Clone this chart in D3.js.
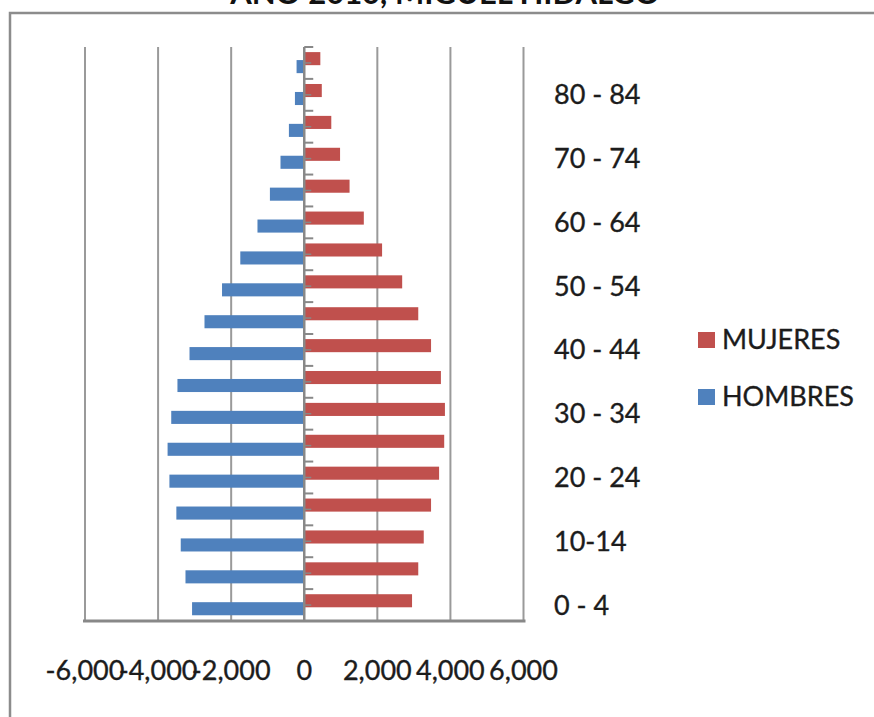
<!DOCTYPE html>
<html>
<head>
<meta charset="utf-8">
<script src="https://cdn.jsdelivr.net/npm/d3@7/dist/d3.min.js"></script>
<style>
  html, body { margin: 0; padding: 0; background: #fff; }
  svg { display: block; font-family: Lato, "Open Sans", sans-serif; }
  .lbl { fill: #1c1c1c; stroke: #1c1c1c; stroke-width: 0.35px; }
</style>
</head>
<body>
<svg id="chart" width="874" height="717"></svg>
<script>
// Age groups, youngest first
const ageGroups = ["0 - 4", "5 - 9", "10-14", "15 - 19", "20 - 24", "25 - 29", "30 - 34", "35 - 39",
  "40 - 44", "45 - 49", "50 - 54", "55 - 59", "60 - 64", "65 - 69", "70 - 74", "75 - 79", "80 - 84", "85 +"];
// Only every other group is labelled on the axis
const shownLabels = ["0 - 4", "10-14", "20 - 24", "30 - 34", "40 - 44", "50 - 54", "60 - 64", "70 - 74", "80 - 84"];
// Population by sex (men drawn to the left as negatives)
const hombres = [3070, 3250, 3380, 3500, 3690, 3740, 3640, 3470, 3140, 2730, 2250, 1750, 1280, 940, 650, 420, 255, 210];
const mujeres = [2950, 3120, 3270, 3470, 3690, 3830, 3850, 3740, 3470, 3120, 2680, 2130, 1630, 1240, 980, 740, 480, 440];
const seriesNames = ["MUJERES", "HOMBRES"];
const seriesColors = ["#C0504D", "#4F81BD"];
const xTicks = [-6000, -4000, -2000, 0, 2000, 4000, 6000];
const title = "AÑO 2010, MIGUEL HIDALGO";

const svg = d3.select("#chart");

const x = d3.scaleLinear().domain([-6000, 6000]).range([85, 523.5]);
const y = d3.scaleBand().domain(ageGroups).range([621, 47]).paddingInner(0).paddingOuter(0);
// bar tops within each age band; the two series sit slightly overlapped
const bw = y.bandwidth();
const sub = d3.scalePoint().domain(seriesNames).range([bw * 0.16, bw * 0.41]);
const barH = bw * 0.41;
const color = d3.scaleOrdinal().domain(seriesNames).range(seriesColors);

const fmt = d3.formatLocale({decimal: ".", thousands: ",", grouping: [3], currency: ["$", ""], minus: "-"}).format(",");

// outer frame
svg.append("path")
  .attr("d", "M10,717V13H874")
  .attr("fill", "none")
  .attr("stroke", "#8c8c8c")
  .attr("stroke-width", 2.5);

// title (runs off the top edge of the frame)
svg.append("text")
  .attr("x", 445).attr("y", 4)
  .attr("text-anchor", "middle")
  .attr("font-weight", "bold")
  .attr("font-size", 31)
  .attr("fill", "#111")
  .text(title);

// vertical gridlines
svg.append("g").selectAll("line")
  .data(xTicks.filter(d => d !== 0))
  .join("line")
  .attr("x1", d => x(d)).attr("x2", d => x(d))
  .attr("y1", 47).attr("y2", 621)
  .attr("stroke", "#9a9a9a")
  .attr("stroke-width", 2);

// bars
const rows = ageGroups.map((g, i) => ({group: g, HOMBRES: -hombres[i], MUJERES: mujeres[i]}));
seriesNames.forEach(s => {
  svg.append("g").selectAll("rect")
    .data(rows)
    .join("rect")
    .attr("x", d => Math.min(x(0), x(d[s])))
    .attr("width", d => Math.abs(x(d[s]) - x(0)))
    .attr("y", d => y(d.group) + sub(s))
    .attr("height", barH)
    .attr("fill", color(s));
});

// category axis at zero
const axisG = svg.append("g");
axisG.append("line")
  .attr("x1", x(0)).attr("x2", x(0))
  .attr("y1", 47).attr("y2", 621)
  .attr("stroke", "#888").attr("stroke-width", 2.5);
const bounds = ageGroups.map(g => y(g)).concat([y(ageGroups[0]) + bw]);
axisG.selectAll("line.major")
  .data(bounds)
  .join("line").attr("class", "major")
  .attr("x1", x(0)).attr("x2", x(0) + 9)
  .attr("y1", d => d).attr("y2", d => d)
  .attr("stroke", "#888").attr("stroke-width", 2);
axisG.selectAll("line.minor")
  .data(ageGroups)
  .join("line").attr("class", "minor")
  .attr("x1", x(0)).attr("x2", x(0) + 7)
  .attr("y1", d => y(d) + bw / 2).attr("y2", d => y(d) + bw / 2)
  .attr("stroke", "#888").attr("stroke-width", 1.5);

// category labels, right of the plot
svg.append("g").selectAll("text")
  .data(shownLabels)
  .join("text")
  .attr("class", "lbl")
  .attr("x", 554)
  .attr("y", d => y(d) + bw / 2 + 9.5)
  .attr("font-size", 27)
  .text(d => d);

// baseline of the value axis
svg.append("line")
  .attr("x1", 83).attr("x2", 525.5)
  .attr("y1", 621).attr("y2", 621)
  .attr("stroke", "#888").attr("stroke-width", 3);

// value tick labels
svg.append("g").selectAll("text")
  .data(xTicks)
  .join("text")
  .attr("class", "lbl")
  .attr("x", d => x(d))
  .attr("y", 680)
  .attr("text-anchor", "middle")
  .attr("font-size", 27)
  .text(d => fmt(d));

// legend
const leg = svg.append("g").selectAll("g")
  .data(seriesNames)
  .join("g")
  .attr("transform", (d, i) => `translate(698, ${332 + i * 57})`);
leg.append("rect").attr("width", 17).attr("height", 16).attr("fill", d => color(d));
leg.append("text").attr("class", "lbl").attr("x", 24).attr("y", 16.5).attr("font-size", 27).text(d => d);
</script>
</body>
</html>
